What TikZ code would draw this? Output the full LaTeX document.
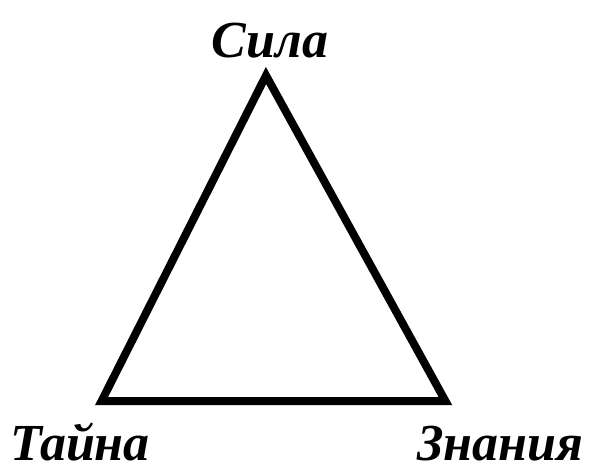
\documentclass[tikz,border=0pt]{standalone}
\usepackage{fontspec}
\setmainfont{Liberation Serif}
\begin{document}
\begin{tikzpicture}[x=1pt,y=-1pt,
  lbl/.style={font=\fontsize{52}{56}\selectfont\bfseries\itshape, anchor=base, inner sep=0pt},
  tri/.style={line width=8pt, line join=miter}]
\useasboundingbox (0,0) rectangle (598,474);
\coordinate (A) at (266,75.5);
\coordinate (B) at (101.6,401);
\coordinate (C) at (445.4,401);
\draw[tri] (A) -- (B) -- (C) -- cycle;
\node[lbl] (sila) at (270,57) {Сила};
\node[lbl] (tayna) at (80,460) {Тайна};
\node[lbl] (znaniya) at (500,460) {Знания};
\end{tikzpicture}
\end{document}
